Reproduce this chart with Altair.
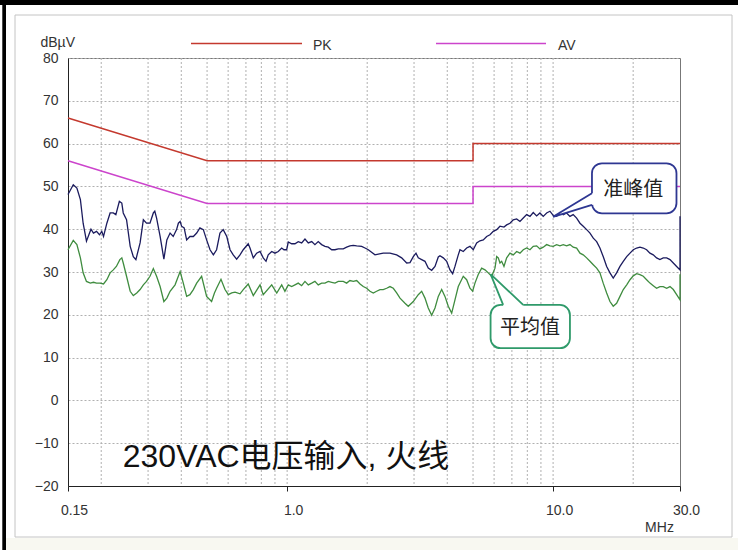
import altair as alt
import pandas as pd

# ---- Conducted emission scan, 230 VAC input, line conductor ----
# Quasi-peak trace: frequency (MHz) and level (dBµV)
qp_freq = [
    0.150, 0.157, 0.162, 0.167, 0.171, 0.176, 0.183, 0.187, 0.192, 0.197,
    0.201, 0.204, 0.210, 0.216, 0.222, 0.227, 0.234, 0.239, 0.242, 0.249,
    0.257, 0.264, 0.270, 0.280, 0.288, 0.296, 0.305, 0.314, 0.318, 0.323,
    0.333, 0.344, 0.353, 0.363, 0.373, 0.384, 0.390, 0.396, 0.401, 0.410,
    0.419, 0.431, 0.444, 0.457, 0.470, 0.484, 0.498, 0.513, 0.528, 0.543,
    0.559, 0.575, 0.593, 0.610, 0.627, 0.646, 0.665, 0.684, 0.714, 0.725,
    0.746, 0.768, 0.791, 0.813, 0.833, 0.849, 0.875, 0.900, 0.926, 0.954,
    0.973, 0.996, 1.010, 1.040, 1.070, 1.101, 1.134, 1.167, 1.201, 1.237,
    1.272, 1.309, 1.348, 1.388, 1.428, 1.471, 1.513, 1.557, 1.626, 1.674,
    1.722, 1.773, 1.826, 1.907, 1.962, 2.019, 2.139, 2.202, 2.298, 2.436,
    2.581, 2.695, 2.815, 2.897, 2.981, 3.051, 3.112, 3.205, 3.298, 3.393,
    3.495, 3.597, 3.701, 3.755, 3.864, 3.980, 4.095, 4.192, 4.276, 4.400,
    4.465, 4.594, 4.731, 4.869, 5.010, 5.160, 5.309, 5.463, 5.627, 5.790,
    5.957, 6.136, 6.313, 6.535, 6.689, 6.884, 7.083, 7.294, 7.506, 7.724,
    7.953, 8.184, 8.421, 8.672, 8.924, 9.182, 9.456, 9.729, 10.01, 10.31,
    10.61, 10.92, 11.24, 11.57, 11.90, 12.26, 12.62, 12.98, 13.37, 13.76,
    14.16, 14.58, 15.00, 15.43, 15.90, 16.36, 16.83, 17.33, 17.84, 18.36,
    18.91, 19.46, 20.02, 20.61, 21.21, 21.83, 22.47, 23.13, 23.80, 24.50,
    25.21, 25.95, 26.73, 27.51, 28.31, 29.14, 30.0, 30.0,
]
qp_level = [
    48.1, 50.4, 49.6, 46.9, 41.4, 37.2, 40.0, 39.1, 39.5, 38.7,
    39.5, 38.3, 41.4, 43.8, 43.8, 43.4, 46.5, 46.1, 43.8, 42.2,
    36.0, 33.6, 32.9, 36.8, 42.2, 41.4, 41.4, 43.8, 44.2, 42.6,
    38.3, 33.0, 37.5, 39.1, 38.3, 39.9, 41.4, 41.8, 40.7, 40.3,
    37.5, 38.3, 38.3, 39.1, 40.3, 39.9, 37.5, 35.2, 34.0, 35.2,
    39.1, 39.9, 38.3, 35.2, 34.0, 33.0, 34.0, 35.2, 36.6, 35.6,
    33.3, 34.4, 34.8, 33.3, 32.5, 34.0, 34.8, 34.4, 34.8, 35.6,
    35.2, 35.2, 37.0, 36.6, 36.6, 37.1, 36.8, 37.7, 36.8, 37.1,
    36.4, 37.1, 36.4, 36.0, 35.8, 35.2, 35.2, 35.4, 35.4, 35.8,
    36.1, 36.2, 36.1, 36.0, 35.6, 35.2, 34.0, 34.2, 34.4, 34.4,
    34.0, 33.3, 32.1, 32.2, 33.6, 34.4, 33.3, 32.9, 32.5, 30.9,
    30.4, 31.3, 33.5, 33.8, 33.3, 32.5, 30.5, 29.6, 31.3, 34.0,
    35.2, 34.8, 35.6, 36.0, 35.2, 36.8, 37.3, 37.5, 38.3, 38.7,
    39.5, 39.9, 40.7, 40.5, 41.0, 41.4, 42.2, 42.4, 41.8, 42.6,
    43.4, 43.0, 43.9, 43.1, 43.8, 43.0, 43.8, 44.2, 43.2, 43.0,
    43.9, 43.4, 43.8, 43.0, 43.4, 42.6, 41.4, 40.7, 39.9, 39.1,
    37.9, 37.1, 35.6, 33.6, 31.3, 29.8, 28.6, 29.8, 31.3, 32.5,
    33.6, 34.4, 35.2, 35.6, 35.8, 35.6, 35.2, 34.4, 34.0, 33.3,
    32.9, 33.3, 33.3, 32.9, 32.1, 31.3, 30.5, 43.0,
]

# Average trace: frequency (MHz) and level (dBµV)
av_freq = [
    0.150, 0.157, 0.162, 0.167, 0.171, 0.176, 0.182, 0.187, 0.192, 0.198,
    0.204, 0.210, 0.216, 0.222, 0.228, 0.235, 0.239, 0.242, 0.249, 0.257,
    0.264, 0.272, 0.280, 0.288, 0.296, 0.305, 0.314, 0.323, 0.333, 0.344,
    0.353, 0.363, 0.379, 0.396, 0.407, 0.419, 0.431, 0.444, 0.457, 0.477,
    0.498, 0.520, 0.533, 0.543, 0.564, 0.584, 0.601, 0.619, 0.637, 0.665,
    0.684, 0.714, 0.746, 0.791, 0.813, 0.875, 0.914, 0.954, 0.981, 1.010,
    1.040, 1.070, 1.101, 1.134, 1.167, 1.201, 1.237, 1.272, 1.309, 1.348,
    1.388, 1.428, 1.471, 1.513, 1.557, 1.626, 1.674, 1.722, 1.773, 1.826,
    1.880, 1.933, 1.991, 2.049, 2.108, 2.170, 2.234, 2.298, 2.367, 2.436,
    2.507, 2.581, 2.657, 2.774, 2.854, 2.981, 3.112, 3.205, 3.298, 3.393,
    3.495, 3.597, 3.701, 3.811, 3.921, 4.035, 4.156, 4.276, 4.400, 4.594,
    4.731, 4.869, 4.983, 5.084, 5.231, 5.388, 5.544, 5.705, 5.876, 6.046,
    6.136, 6.221, 6.313, 6.407, 6.535, 6.689, 6.884, 7.083, 7.294, 7.506,
    7.724, 7.953, 8.184, 8.421, 8.672, 8.924, 9.182, 9.456, 9.729, 10.01,
    10.31, 10.61, 10.92, 11.24, 11.57, 11.90, 12.26, 12.62, 12.98, 13.37,
    13.76, 14.16, 14.58, 15.00, 15.43, 15.90, 16.36, 16.83, 17.33, 17.84,
    18.36, 18.91, 19.46, 20.02, 20.61, 21.21, 21.83, 22.47, 23.13, 23.80,
    24.50, 25.21, 25.95, 26.73, 27.51, 28.31, 29.14, 30.0, 30.0,
]
av_level = [
    35.2, 37.4, 36.4, 33.3, 29.8, 27.8, 27.4, 27.6, 27.4, 27.4,
    27.2, 28.2, 29.8, 30.5, 31.3, 32.9, 33.3, 32.1, 29.0, 25.5,
    24.5, 25.1, 25.9, 27.0, 27.8, 29.0, 30.8, 29.0, 26.6, 23.1,
    23.9, 25.5, 27.0, 30.1, 27.4, 24.3, 24.7, 25.9, 27.4, 29.0,
    24.3, 23.1, 25.1, 26.2, 28.3, 25.9, 24.7, 25.1, 25.3, 24.9,
    25.9, 27.2, 24.5, 27.0, 24.7, 27.0, 25.1, 27.0, 25.5, 27.0,
    26.6, 27.0, 27.4, 26.8, 27.8, 27.0, 27.4, 27.8, 27.0, 27.4,
    27.4, 27.8, 27.6, 27.4, 27.8, 27.8, 27.4, 28.0, 27.8, 28.0,
    27.2, 26.6, 26.2, 25.5, 25.1, 25.5, 25.9, 25.9, 26.2, 26.6,
    26.2, 25.1, 23.9, 22.7, 22.0, 23.1, 24.7, 25.5, 23.9, 21.6,
    19.9, 21.6, 24.3, 25.9, 24.3, 22.0, 20.4, 23.5, 26.6, 29.0,
    28.2, 26.2, 25.5, 27.4, 29.4, 30.9, 30.5, 29.8, 29.0, 30.9,
    33.6, 33.3, 32.1, 32.5, 31.3, 33.3, 34.4, 34.0, 34.8, 34.4,
    35.2, 35.6, 35.2, 36.0, 36.1, 35.4, 35.8, 36.4, 36.1, 36.0,
    36.4, 36.1, 36.4, 36.1, 36.4, 35.8, 35.6, 34.4, 34.0, 33.3,
    32.5, 31.7, 30.9, 29.8, 27.4, 25.1, 23.1, 22.0, 22.7, 24.3,
    25.9, 27.0, 28.2, 29.1, 29.6, 29.4, 29.0, 28.2, 27.4, 26.8,
    26.2, 26.6, 26.6, 26.2, 26.6, 25.9, 24.7, 23.5, 29.5,
]

# Class B limit lines (CISPR 22 / EN 55022)
limit_freq = [0.15, 0.5, 5.0, 5.0, 30.0]
pk_limit = [66, 56, 56, 60, 60]
av_limit = [56, 46, 46, 50, 50]

# Axis structure
grid_freqs = [0.2, 0.3, 0.4, 0.5, 0.6, 0.7, 0.8, 0.9,
              1, 2, 3, 4, 5, 6, 7, 8, 9, 10, 20]
x_label_freqs = [0.15, 1.0, 10.0, 30.0]
y_ticks = list(range(-20, 81, 10))

# Callout boxes: label, box extent, tail tip and tail base points
callout_text = ["准峰值", "平均值"]
callout_text_f = [20.0, 8.18]
callout_text_db = [49.2, 16.9]
callout_box_f = [14.0, 5.82]
callout_box_f2 = [29.1, 11.57]
callout_box_db = [43.7, 12.2]
callout_box_db2 = [55.4, 22.3]
callout_colors = ["#2e3792", "#2f9a6a"]

assert len(qp_freq) == len(qp_level)
assert len(av_freq) == len(av_level)

RED = "#c4392e"
MAGENTA = "#cc44cc"
NAVY = "#1b1b5e"
GREEN = "#3f8c3f"
TEXT = "#333333"
SANS = "Liberation Sans"
CJK = "Liberation Sans, Noto Sans CJK SC"

W, H = 612, 428

xscale = alt.Scale(type="log", domain=[0.15, 30], nice=False)
yscale = alt.Scale(domain=[-20, 80], nice=False)

x_axis = alt.Axis(
    values=x_label_freqs,
    labelExpr="datum.value < 0.2 ? '0.15' : format(datum.value, '.1f')",
    grid=False, tickSize=5, tickColor="#222", domainColor="#222",
    labelOffset=6, labelPadding=12, labelFlush=False, labelOverlap=False,
    labelFont=SANS, labelFontSize=14, labelColor=TEXT,
    title="MHz", titleFont=SANS, titleFontSize=14, titleFontWeight="normal",
    titleColor=TEXT, titleX=591, titleY=41, titleAlign="center",
    titleBaseline="middle",
)
y_axis = alt.Axis(
    values=y_ticks, ticks=False, tickSize=0, labelPadding=10,
    grid=True, gridDash=[2, 2], gridColor="#b0b0b0", domainColor="#222",
    labelFont=SANS, labelFontSize=14, labelColor=TEXT,
    title="dBµV", titleAngle=0, titleAlign="left", titleBaseline="middle",
    titleX=-28, titleY=-16, titleFont=SANS, titleFontSize=14,
    titleFontWeight="normal", titleColor=TEXT,
)


def X(field):
    return alt.X(field, type="quantitative", scale=xscale, axis=x_axis)


def Y(field):
    return alt.Y(field, type="quantitative", scale=yscale, axis=y_axis)


one = pd.DataFrame({"k": [0]})

# Page frame: panel outline, dark bars along top and left edges
panel = alt.Chart(one).mark_rect(filled=False, stroke="#c4c4c4", strokeWidth=1).encode(
    x=alt.value(-53), x2=alt.value(664), y=alt.value(-43), y2=alt.value(479))
bottom_strip = alt.Chart(one).mark_rect(fill="#f8f8f1").encode(
    x=alt.value(-62), x2=alt.value(670), y=alt.value(480), y2=alt.value(492))
top_bar = alt.Chart(one).mark_rect(fill="black").encode(
    x=alt.value(-68), x2=alt.value(670), y=alt.value(-58), y2=alt.value(-53))
left_bar = alt.Chart(one).mark_rect(fill="black").encode(
    x=alt.value(-65.7), x2=alt.value(-62), y=alt.value(-58), y2=alt.value(492))

# Vertical dotted grid
grid_df = pd.DataFrame({"f": grid_freqs})
vgrid = alt.Chart(grid_df).mark_rule(
    color="#b0b0b0", strokeDash=[2, 2], strokeWidth=1).encode(x=X("f"))

# Limit lines
lim_df = pd.DataFrame({"f": limit_freq, "pk": pk_limit, "av": av_limit,
                       "i": range(len(limit_freq))})
pk_line = alt.Chart(lim_df).mark_line(color=RED, strokeWidth=1.5).encode(
    x=X("f"), y=Y("pk"), order="i:Q")
av_line = alt.Chart(lim_df).mark_line(color=MAGENTA, strokeWidth=1.5).encode(
    x=X("f"), y=Y("av"), order="i:Q")

# Measured traces
qp_df = pd.DataFrame({"f": qp_freq, "db": qp_level, "i": range(len(qp_freq))})
av_df = pd.DataFrame({"f": av_freq, "db": av_level, "i": range(len(av_freq))})
qp_trace = alt.Chart(qp_df).mark_line(color=NAVY, strokeWidth=1.3).encode(
    x=X("f"), y=Y("db"), order="i:Q")
av_trace = alt.Chart(av_df).mark_line(color=GREEN, strokeWidth=1.3).encode(
    x=X("f"), y=Y("db"), order="i:Q")

# Callout boxes
box_df = pd.DataFrame({
    "f": callout_box_f, "f2": callout_box_f2,
    "db": callout_box_db, "db2": callout_box_db2,
    "c": callout_colors, "t": callout_text,
    "tf": callout_text_f, "tdb": callout_text_db,
})
boxes = alt.Chart(box_df).mark_rect(
    fill="white", strokeWidth=1.8, cornerRadius=10).encode(
    x=X("f"), x2="f2", y=Y("db"), y2="db2",
    stroke=alt.Stroke("c:N", scale=None))

# Quasi-peak callout tail (points left to the trace)
qp_gap = alt.Chart(pd.DataFrame({"f": [14.0], "a": [45.7], "b": [48.4]})).mark_rule(
    color="white", strokeWidth=3.5).encode(x=X("f"), y=Y("a"), y2="b")
qp_tail_fill = alt.Chart(pd.DataFrame(
    {"f": [10.0, 14.0], "a": [42.9, 48.4], "b": [42.9, 45.7]})).mark_area(
    color="white", orient="vertical").encode(x=X("f"), y=Y("a"), y2="b")
qp_tail = alt.Chart(pd.DataFrame(
    {"f": [14.0, 10.0, 14.0], "db": [48.4, 42.9, 45.7], "i": [0, 1, 2]})).mark_line(
    color=callout_colors[0], strokeWidth=1.8).encode(x=X("f"), y=Y("db"), order="i:Q")

# Average callout tail (points up to the trace)
av_gap = alt.Chart(pd.DataFrame({"f": [6.49], "f2": [7.72], "db": [22.3]})).mark_rule(
    color="white", strokeWidth=3.5).encode(x=X("f"), x2="f2", y=Y("db"))
av_tail_fill = alt.Chart(pd.DataFrame(
    {"f": [5.82, 6.49, 7.72], "a": [29.5, 26.7, 22.3], "b": [29.5, 22.3, 22.3]})).mark_area(
    color="white", orient="vertical").encode(x=X("f"), y=Y("a"), y2="b")
av_tail = alt.Chart(pd.DataFrame(
    {"f": [6.49, 5.82, 7.72], "db": [22.3, 29.5, 22.3], "i": [0, 1, 2]})).mark_line(
    color=callout_colors[1], strokeWidth=1.8).encode(x=X("f"), y=Y("db"), order="i:Q")

callout_labels = alt.Chart(box_df).mark_text(
    font="Noto Sans CJK SC", fontSize=20, color="#222222",
    align="center", baseline="middle").encode(
    x=X("tf"), y=Y("tdb"), text="t:N")

# Test condition caption
caption = alt.Chart(pd.DataFrame({"f": [0.241], "db": [-15.6],
                                  "t": ["230VAC电压输入, 火线"]})).mark_text(
    font=CJK, fontSize=32, color="#111111", align="left",
    baseline="alphabetic").encode(x=X("f"), y=Y("db"), text="t:N")

# Legend for the limit lines
leg_pk_line = alt.Chart(one).mark_rule(color=RED, strokeWidth=1.5).encode(
    x=alt.value(123), x2=alt.value(234), y=alt.value(-14.5))
leg_pk_text = alt.Chart(one).mark_text(
    text="PK", font=SANS, fontSize=14, color=TEXT, align="left",
    baseline="middle").encode(x=alt.value(245), y=alt.value(-12.5))
leg_av_line = alt.Chart(one).mark_rule(color=MAGENTA, strokeWidth=1.5).encode(
    x=alt.value(368), x2=alt.value(478), y=alt.value(-14.5))
leg_av_text = alt.Chart(one).mark_text(
    text="AV", font=SANS, fontSize=14, color=TEXT, align="left",
    baseline="middle").encode(x=alt.value(490), y=alt.value(-12.5))

chart = alt.layer(
    panel, bottom_strip, top_bar, left_bar,
    vgrid, pk_line, av_line, av_trace, qp_trace,
    boxes, qp_gap, qp_tail_fill, qp_tail, av_gap, av_tail_fill, av_tail,
    callout_labels, caption,
    leg_pk_line, leg_pk_text, leg_av_line, leg_av_text,
).properties(
    width=W, height=H,
    padding={"left": 68, "top": 58, "right": 58, "bottom": 64},
    autosize=alt.AutoSizeParams(type="none"),
    background="white",
).configure_view(stroke="#777777", strokeWidth=1)

chart.save("out.html", embed_options={"renderer": "svg", "actions": False})
